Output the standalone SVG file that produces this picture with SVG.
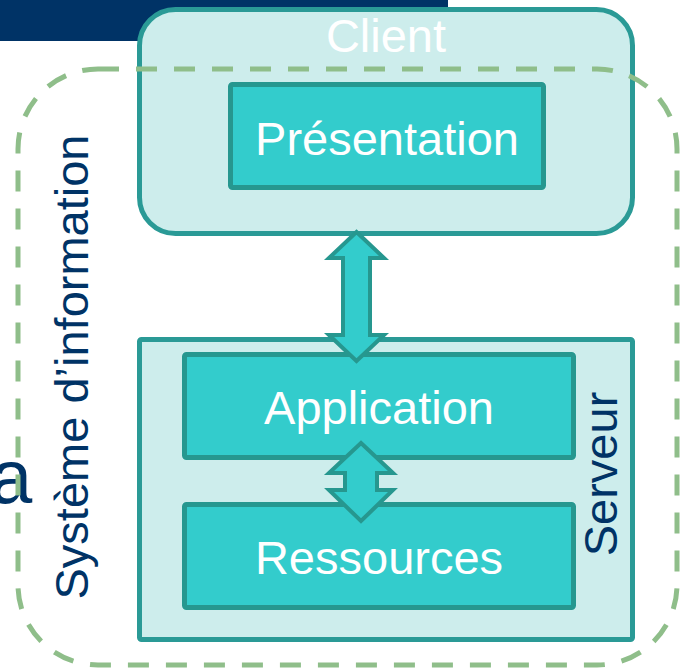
<svg xmlns="http://www.w3.org/2000/svg" width="690" height="671" viewBox="0 0 690 671">
<style>
  .lbl { font-family: "Liberation Sans", Arial, sans-serif; font-size: 47px; }
  .w { fill: #ffffff; }
  .b { fill: #003366; }
  .outer { fill: #CDEDEC; stroke: #2A9A96; stroke-width: 5; }
  .inner { fill: #33CCCC; stroke: #26978F; stroke-width: 5; }
  .arrow { fill: #33CCCC; stroke: #26978F; stroke-width: 4; stroke-linejoin: miter; }
</style>
<rect x="0" y="0" width="448" height="41" fill="#003366"/>
<text class="lbl b" x="-10" y="503" style="font-size:76px">a</text>
<g id="client">
  <rect class="outer" x="139.5" y="9.5" width="493" height="224" rx="36"/>
  <text class="lbl w" x="386" y="52" text-anchor="middle">Client</text>
</g>
<g id="systeme">
  <rect x="18" y="69" width="659" height="596" rx="80" fill="none" stroke="#8FBE8A" stroke-width="5" stroke-dasharray="21 17"/>
  <text class="lbl b" transform="translate(88,367) rotate(-90)" text-anchor="middle">Système d’information</text>
</g>
<g id="presentation">
  <rect class="inner" x="230.5" y="84.5" width="313" height="103" rx="2"/>
  <text class="lbl w" x="387" y="155" text-anchor="middle">Présentation</text>
</g>
<g id="serveur">
  <rect class="outer" x="139.5" y="339.5" width="493" height="300" rx="2"/>
  <text class="lbl b" transform="translate(617,474) rotate(-90)" text-anchor="middle">Serveur</text>
</g>
<g id="application">
  <rect class="inner" x="184.5" y="354.5" width="389" height="103" rx="2"/>
  <text class="lbl w" x="379" y="424" text-anchor="middle">Application</text>
</g>
<g id="ressources">
  <rect class="inner" x="184.5" y="504.5" width="389" height="103" rx="2"/>
  <text class="lbl w" x="379" y="574" text-anchor="middle">Ressources</text>
</g>
<g id="connectors">
  <polygon class="arrow" points="356.5,232 384,258 370,258 370,335 384,335 356.5,361 329,335 343,335 343,258 329,258"/>
  <polygon class="arrow" points="361,443 393,473 377,473 377,490 393,490 361,521 329,490 345,490 345,473 329,473"/>
</g>
</svg>
